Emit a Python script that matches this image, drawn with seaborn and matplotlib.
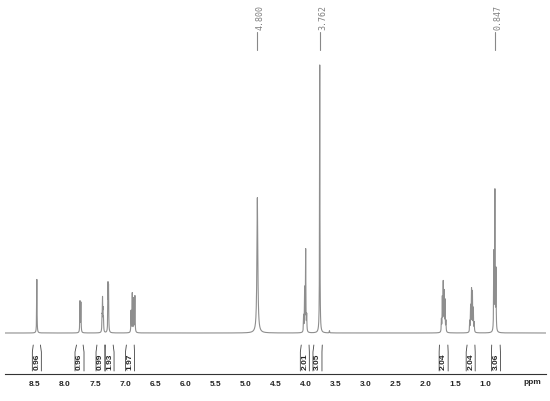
import numpy as np
import pandas as pd
import seaborn as sns
import matplotlib.pyplot as plt

# Lineas del espectro: desplazamiento (ppm), altura relativa, semiancho (ppm)
line_ppm = [8.470,
            7.752, 7.737,
            7.385, 7.377, 7.369, 7.361,
            7.286, 7.277,
            6.902, 6.882, 6.858, 6.838,
            4.800,
            4.030, 4.013, 3.996, 3.979,
            3.762,
            3.600,
            1.737, 1.722, 1.707, 1.692, 1.677, 1.662,
            1.266, 1.251, 1.236, 1.221, 1.206, 1.191,
            0.865, 0.847, 0.829]
line_height = [0.200,
               0.115, 0.110,
               0.050, 0.115, 0.070, 0.045,
               0.170, 0.160,
               0.080, 0.145, 0.125, 0.135,
               0.505,
               0.060, 0.160, 0.305, 0.060,
               1.000,
               0.008,
               0.045, 0.125, 0.180, 0.145, 0.115, 0.040,
               0.040, 0.095, 0.155, 0.145, 0.085, 0.035,
               0.290, 0.520, 0.225]
line_hwhm = [0.0035] * 13 + [0.009] + [0.0035] * 21

# Etiquetas de picos (arriba)
peak_labels = ["4.800", "3.762", "0.847"]
peak_label_ppm = [4.800, 3.762, 0.847]

# Integrales
integral_values = ["0.96", "0.96", "0.99", "1.93", "1.97",
                   "2.01", "3.05", "2.04", "2.04", "3.06"]
integral_center = [8.47, 7.76, 7.41, 7.26, 6.92,
                   4.01, 3.80, 1.70, 1.25, 0.83]
integral_lo = [8.53, 7.81, 7.47, 7.33, 6.98, 4.07, 3.86, 1.77, 1.31, 0.90]
integral_hi = [8.41, 7.70, 7.34, 7.20, 6.85, 3.94, 3.72, 1.63, 1.18, 0.76]

tick_values = [8.5, 8.0, 7.5, 7.0, 6.5, 6.0, 5.5, 5.0, 4.5, 4.0, 3.5, 3.0, 2.5, 2.0, 1.5, 1.0]

# Espectro como suma de lorentzianas
ppm = np.linspace(0.0, 9.0, 40001)
inten = np.zeros_like(ppm)
for p, h, w in zip(line_ppm, line_height, line_hwhm):
    inten += h * w**2 / ((ppm - p)**2 + w**2)
df = pd.DataFrame({"ppm": ppm, "intensidad": inten})

sns.set_style("white")
plt.rcParams['font.family'] = ['Liberation Sans', 'DejaVu Sans']

# Conversion de pixeles verticales a unidades de intensidad
y0_px, scale_px = 333.0, 268.0
def ypx(py):
    return (y0_px - py) / scale_px

fig = plt.figure(figsize=(5.5, 4.01), dpi=100)
ax = fig.add_axes([5 / 550, 1 - 374.3 / 401, 540.8 / 550, 374.3 / 401])

sns.lineplot(data=df, x="ppm", y="intensidad", ax=ax, color="#8e8e8e",
             linewidth=0.8, estimator=None, sort=False)

ax.set_xlim(9.0, 0.0)
ax.set_ylim(ypx(374.3), ypx(0))

for s in ["left", "top", "right"]:
    ax.spines[s].set_visible(False)
ax.spines["bottom"].set_color("#333333")
ax.spines["bottom"].set_linewidth(0.8)

ax.set_yticks([])
ax.set_xticks([9.0] + tick_values)
ax.set_xticklabels([""] + [f"{t:.1f}" for t in tick_values], fontsize=6, fontweight="bold")
ax.set_xticks(np.arange(0.1, 9.0, 0.1), minor=True)
ax.tick_params(axis="x", which="major", direction="inout", length=5, width=0.7,
               color="#333333", pad=2)
ax.tick_params(axis="x", which="minor", direction="in", length=2, width=0.5,
               color="#555555")
ax.set_xlabel("")
ax.set_ylabel("")
ax.text(0.23, ypx(383), "ppm", fontsize=6, fontweight="bold",
        ha="center", va="center", clip_on=False)

# Etiquetas de desplazamiento arriba
for lab, p in zip(peak_labels, peak_label_ppm):
    ax.plot([p, p], [ypx(32), ypx(50)], color="#888888", lw=0.8)
    ax.text(p - 0.045, ypx(30), lab, rotation=90, ha="center", va="bottom",
            fontsize=6, family="DejaVu Sans Mono", color="#808080")

# Integrales
half = 4.5 / 60.09
for val, c, lo, hi in zip(integral_values, integral_center, integral_lo, integral_hi):
    ax.plot([lo, c + half, c + half], [ypx(345), ypx(352), ypx(371)],
            color="#444444", lw=0.6, clip_on=False)
    ax.plot([hi, c - half, c - half], [ypx(345), ypx(352), ypx(371)],
            color="#444444", lw=0.6, clip_on=False)
    ax.text(c, ypx(362), val, rotation=90, ha="center", va="center",
            fontsize=6, fontweight="bold")

fig.savefig("out.png", dpi=100)
